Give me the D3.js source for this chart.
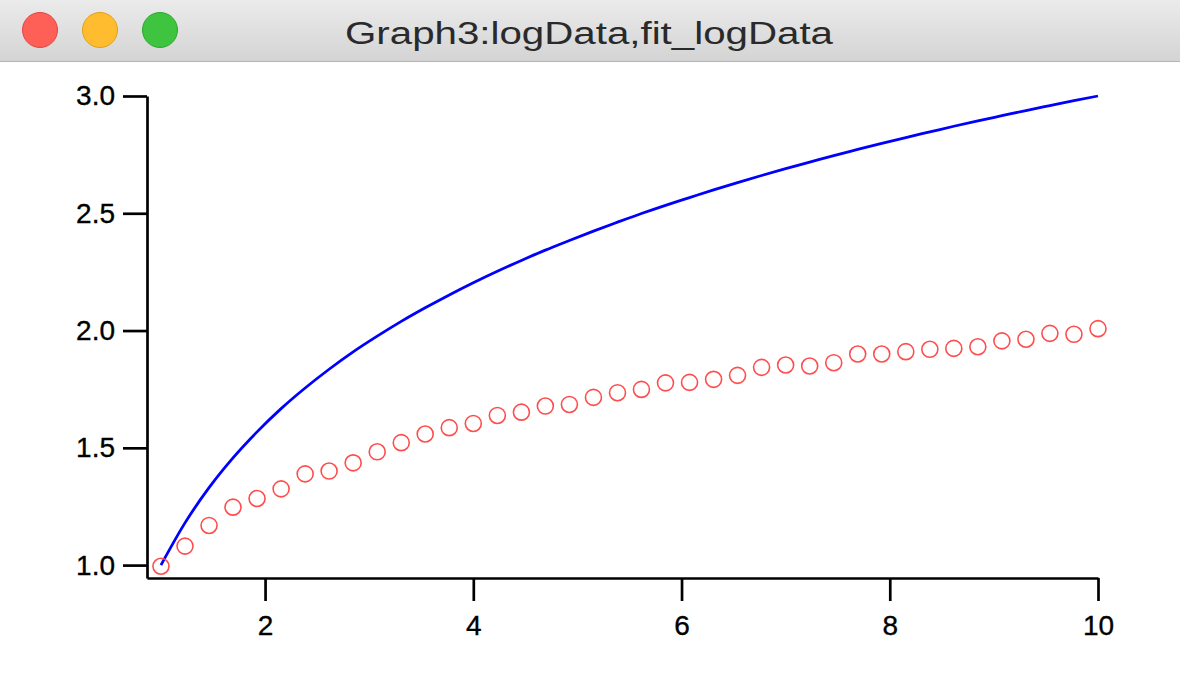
<!DOCTYPE html>
<html>
<head>
<meta charset="utf-8">
<script src="https://cdn.jsdelivr.net/npm/d3@7"></script>
<style>
  html, body { margin: 0; padding: 0; background: #ffffff; }
  svg { display: block; }
</style>
</head>
<body>
<svg id="chart" width="1180" height="682"></svg>
<script>
// ---- data ----
const title = "Graph3:logData,fit_logData";
const xValues = [1.000, 1.231, 1.462, 1.692, 1.923, 2.154, 2.385, 2.615, 2.846, 3.077,
                 3.308, 3.538, 3.769, 4.000, 4.231, 4.462, 4.692, 4.923, 5.154, 5.385,
                 5.615, 5.846, 6.077, 6.308, 6.538, 6.769, 7.000, 7.231, 7.462, 7.692,
                 7.923, 8.154, 8.385, 8.615, 8.846, 9.077, 9.308, 9.538, 9.769, 10.000];
const logData = [0.995, 1.081, 1.169, 1.247, 1.284, 1.325, 1.389, 1.401, 1.436, 1.483,
                 1.522, 1.559, 1.586, 1.604, 1.638, 1.652, 1.678, 1.685, 1.715, 1.735,
                 1.749, 1.777, 1.779, 1.792, 1.809, 1.843, 1.853, 1.849, 1.863, 1.900,
                 1.900, 1.910, 1.920, 1.924, 1.931, 1.956, 1.963, 1.988, 1.984, 2.008];
const fit_logData = [1.000, 1.180, 1.330, 1.457, 1.568, 1.667, 1.755, 1.835, 1.909, 1.976,
                     2.039, 2.097, 2.152, 2.204, 2.253, 2.299, 2.343, 2.384, 2.424, 2.462,
                     2.499, 2.534, 2.567, 2.600, 2.631, 2.661, 2.690, 2.718, 2.746, 2.772,
                     2.798, 2.823, 2.847, 2.871, 2.894, 2.916, 2.938, 2.959, 2.980, 3.000];
const xTicks = [2, 4, 6, 8, 10];
const yTicks = [1.0, 1.5, 2.0, 2.5, 3.0];

// ---- drawing ----
const svg = d3.select("#chart");
const W = 1180, H = 682;

const defs = svg.append("defs");
const grad = defs.append("linearGradient").attr("id", "tb").attr("x1", 0).attr("y1", 0).attr("x2", 0).attr("y2", 1);
grad.append("stop").attr("offset", "0%").attr("stop-color", "#ebebeb");
grad.append("stop").attr("offset", "100%").attr("stop-color", "#d4d4d4");

svg.append("rect").attr("x", 0).attr("y", 0).attr("width", W).attr("height", H).attr("fill", "#ffffff");
svg.append("rect").attr("x", 0).attr("y", 0).attr("width", W).attr("height", 61).attr("fill", "url(#tb)");
svg.append("line").attr("x1", 0).attr("x2", W).attr("y1", 61.5).attr("y2", 61.5).attr("stroke", "#b4b4b4").attr("stroke-width", 1);

const lights = [
  { cx: 40, fill: "#fe5f57", stroke: "#e2463f" },
  { cx: 100, fill: "#febc2e", stroke: "#e1a116" },
  { cx: 160, fill: "#3ec43f", stroke: "#2aa92c" }
];
svg.selectAll("circle.light").data(lights).join("circle")
  .attr("class", "light")
  .attr("cx", d => d.cx).attr("cy", 30).attr("r", 17.5)
  .attr("fill", d => d.fill).attr("stroke", d => d.stroke).attr("stroke-width", 1);

svg.append("text")
  .attr("x", 589).attr("y", 44)
  .attr("text-anchor", "middle")
  .attr("font-family", "'Liberation Sans', Arial, Helvetica, sans-serif")
  .attr("font-size", 31)
  .attr("fill", "#2a2a2a")
  .attr("textLength", 488)
  .attr("lengthAdjust", "spacingAndGlyphs")
  .text(title);

// scales
const x = d3.scaleLinear().domain([0.866, 10]).range([147, 1098]);
const y = d3.scaleLinear().domain([0.945, 3]).range([578, 96]);

const font = "'Liberation Sans', Arial, Helvetica, sans-serif";

// axes
const xAxis = d3.axisBottom(x).tickValues(xTicks).tickFormat(d3.format("d"))
  .tickSize(23).tickSizeOuter(0).tickPadding(14);
const yAxis = d3.axisLeft(y).tickValues(yTicks).tickFormat(d3.format(".1f"))
  .tickSize(24).tickSizeOuter(0).tickPadding(8);

const gx = svg.append("g").attr("transform", "translate(0,578)").call(xAxis);
const gy = svg.append("g").attr("transform", "translate(147,0)").call(yAxis);

[gx, gy].forEach(g => {
  g.select(".domain").attr("stroke", "#000").attr("stroke-width", 2.7);
  g.selectAll(".tick line").attr("stroke", "#000").attr("stroke-width", 2.7);
  g.selectAll(".tick text").attr("fill", "#000").attr("font-family", font).attr("font-size", 28)
    .attr("stroke", "#000").attr("stroke-width", 0.35);
});

// fit line
const pts = xValues.map((xv, i) => ({ x: xv, y: fit_logData[i] }));
svg.append("path")
  .datum(pts)
  .attr("fill", "none")
  .attr("stroke", "#0000ff")
  .attr("stroke-width", 2.8)
  .attr("stroke-linejoin", "round")
  .attr("d", d3.line().x(d => x(d.x)).y(d => y(d.y)).curve(d3.curveMonotoneX));

// data markers
svg.append("g").selectAll("circle")
  .data(xValues.map((xv, i) => ({ x: xv, y: logData[i] })))
  .join("circle")
  .attr("cx", d => x(d.x))
  .attr("cy", d => y(d.y))
  .attr("r", 8)
  .attr("fill", "none")
  .attr("stroke", "#ff4d4d")
  .attr("stroke-width", 1.6);
</script>
</body>
</html>
